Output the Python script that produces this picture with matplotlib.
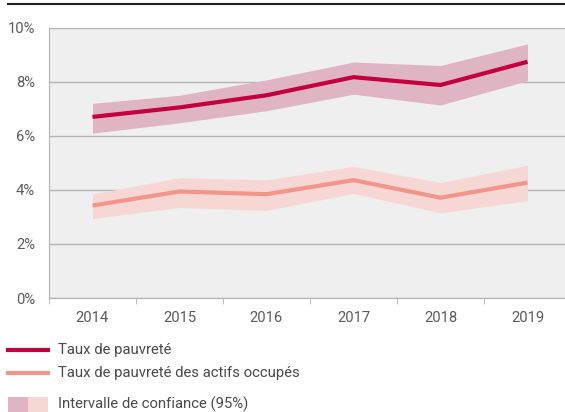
import matplotlib
matplotlib.use("Agg")
import matplotlib.pyplot as plt
from matplotlib.lines import Line2D
from matplotlib.patches import Rectangle
import numpy as np

plt.rcParams["font.family"] = ["Roboto", "DejaVu Sans"]

# ── Data ──────────────────────────────────────────────────────────────────────
years = ["2014", "2015", "2016", "2017", "2018", "2019"]
poverty = [6.70, 7.05, 7.50, 8.17, 7.88, 8.74]
poverty_low = [6.10, 6.48, 6.93, 7.54, 7.14, 8.04]
poverty_high = [7.20, 7.50, 8.07, 8.73, 8.60, 9.40]
working_poor = [3.42, 3.94, 3.84, 4.36, 3.71, 4.27]
working_low = [2.94, 3.35, 3.24, 3.87, 3.15, 3.60]
working_high = [3.85, 4.45, 4.37, 4.87, 4.27, 4.91]
yticks = [0, 2, 4, 6, 8, 10]

# ── Theme ─────────────────────────────────────────────────────────────────────
_DARK = "#c5003e"
_DARK_BAND = "#e0b5c3"
_LIGHT = "#f2958a"
_LIGHT_BAND = "#f6d7d4"
_AX_BG = "#efefef"
_GRID = "#b3b3b3"
_TEXT = "#5a5a5a"
_LEG_TEXT = "#4a4a4a"

W, H = 565, 412
fig = plt.figure(figsize=(W / 100, H / 100), dpi=100)
fig.patch.set_facecolor("white")
ax = fig.add_axes([49 / W, (H - 298) / H, (571 - 49) / W, (298 - 27.7) / H])
ax.set_facecolor(_AX_BG)

x = np.arange(len(years))
ax.fill_between(x, poverty_low, poverty_high, color=_DARK_BAND, linewidth=0, zorder=2)
ax.fill_between(x, working_low, working_high, color=_LIGHT_BAND, linewidth=0, zorder=2)
ax.plot(x, poverty, color=_DARK, linewidth=3, zorder=3, solid_capstyle="butt")
ax.plot(x, working_poor, color=_LIGHT, linewidth=3, zorder=3, solid_capstyle="butt")

ax.set_xlim(-0.5, 5.5)
ax.set_ylim(0, 10)
ax.set_yticks(yticks)
ax.set_yticklabels([f"{v}%" for v in yticks])
ax.set_xticks(x)
ax.set_xticklabels(years)
ax.set_xticks(np.arange(-0.5, 5.6, 1), minor=True)
ax.tick_params(axis="x", which="major", length=0, pad=9, labelsize=10.6, labelcolor=_TEXT)
ax.tick_params(axis="x", which="minor", length=4, color=_GRID)
ax.tick_params(axis="y", length=0, pad=10, labelsize=10.6, labelcolor=_TEXT)

ax.grid(True, axis="y", color=_GRID, linewidth=1, zorder=1)
ax.set_axisbelow(True)
for side in ["top", "right"]:
    ax.spines[side].set_visible(False)
ax.spines["left"].set_color(_GRID)
ax.spines["bottom"].set_color(_GRID)

# top rule
fig.add_artist(Line2D([8 / W, 1], [(H - 4) / H] * 2, color="#222222", linewidth=1.5))

# ── Legend ────────────────────────────────────────────────────────────────────
def fy(py):
    return (H - py) / H

fig.add_artist(Line2D([8 / W, 48 / W], [fy(350)] * 2, color=_DARK, linewidth=3))
fig.text(58 / W, fy(350), "Taux de pauvreté", color=_LEG_TEXT, fontsize=10.7, va="center")
fig.add_artist(Line2D([8 / W, 48 / W], [fy(373)] * 2, color=_LIGHT, linewidth=3))
fig.text(58 / W, fy(373), "Taux de pauvreté des actifs occupés", color=_LEG_TEXT,
         fontsize=10.7, va="center")
fig.add_artist(Rectangle((8 / W, fy(413)), 20 / W, 16 / H, color=_DARK_BAND,
                         transform=fig.transFigure, linewidth=0))
fig.add_artist(Rectangle((28 / W, fy(413)), 20 / W, 16 / H, color=_LIGHT_BAND,
                         transform=fig.transFigure, linewidth=0))
fig.text(58 / W, fy(404), "Intervalle de confiance (95%)", color=_LEG_TEXT,
         fontsize=10.7, va="center")

fig.savefig("out.png", dpi=100, facecolor="white")
